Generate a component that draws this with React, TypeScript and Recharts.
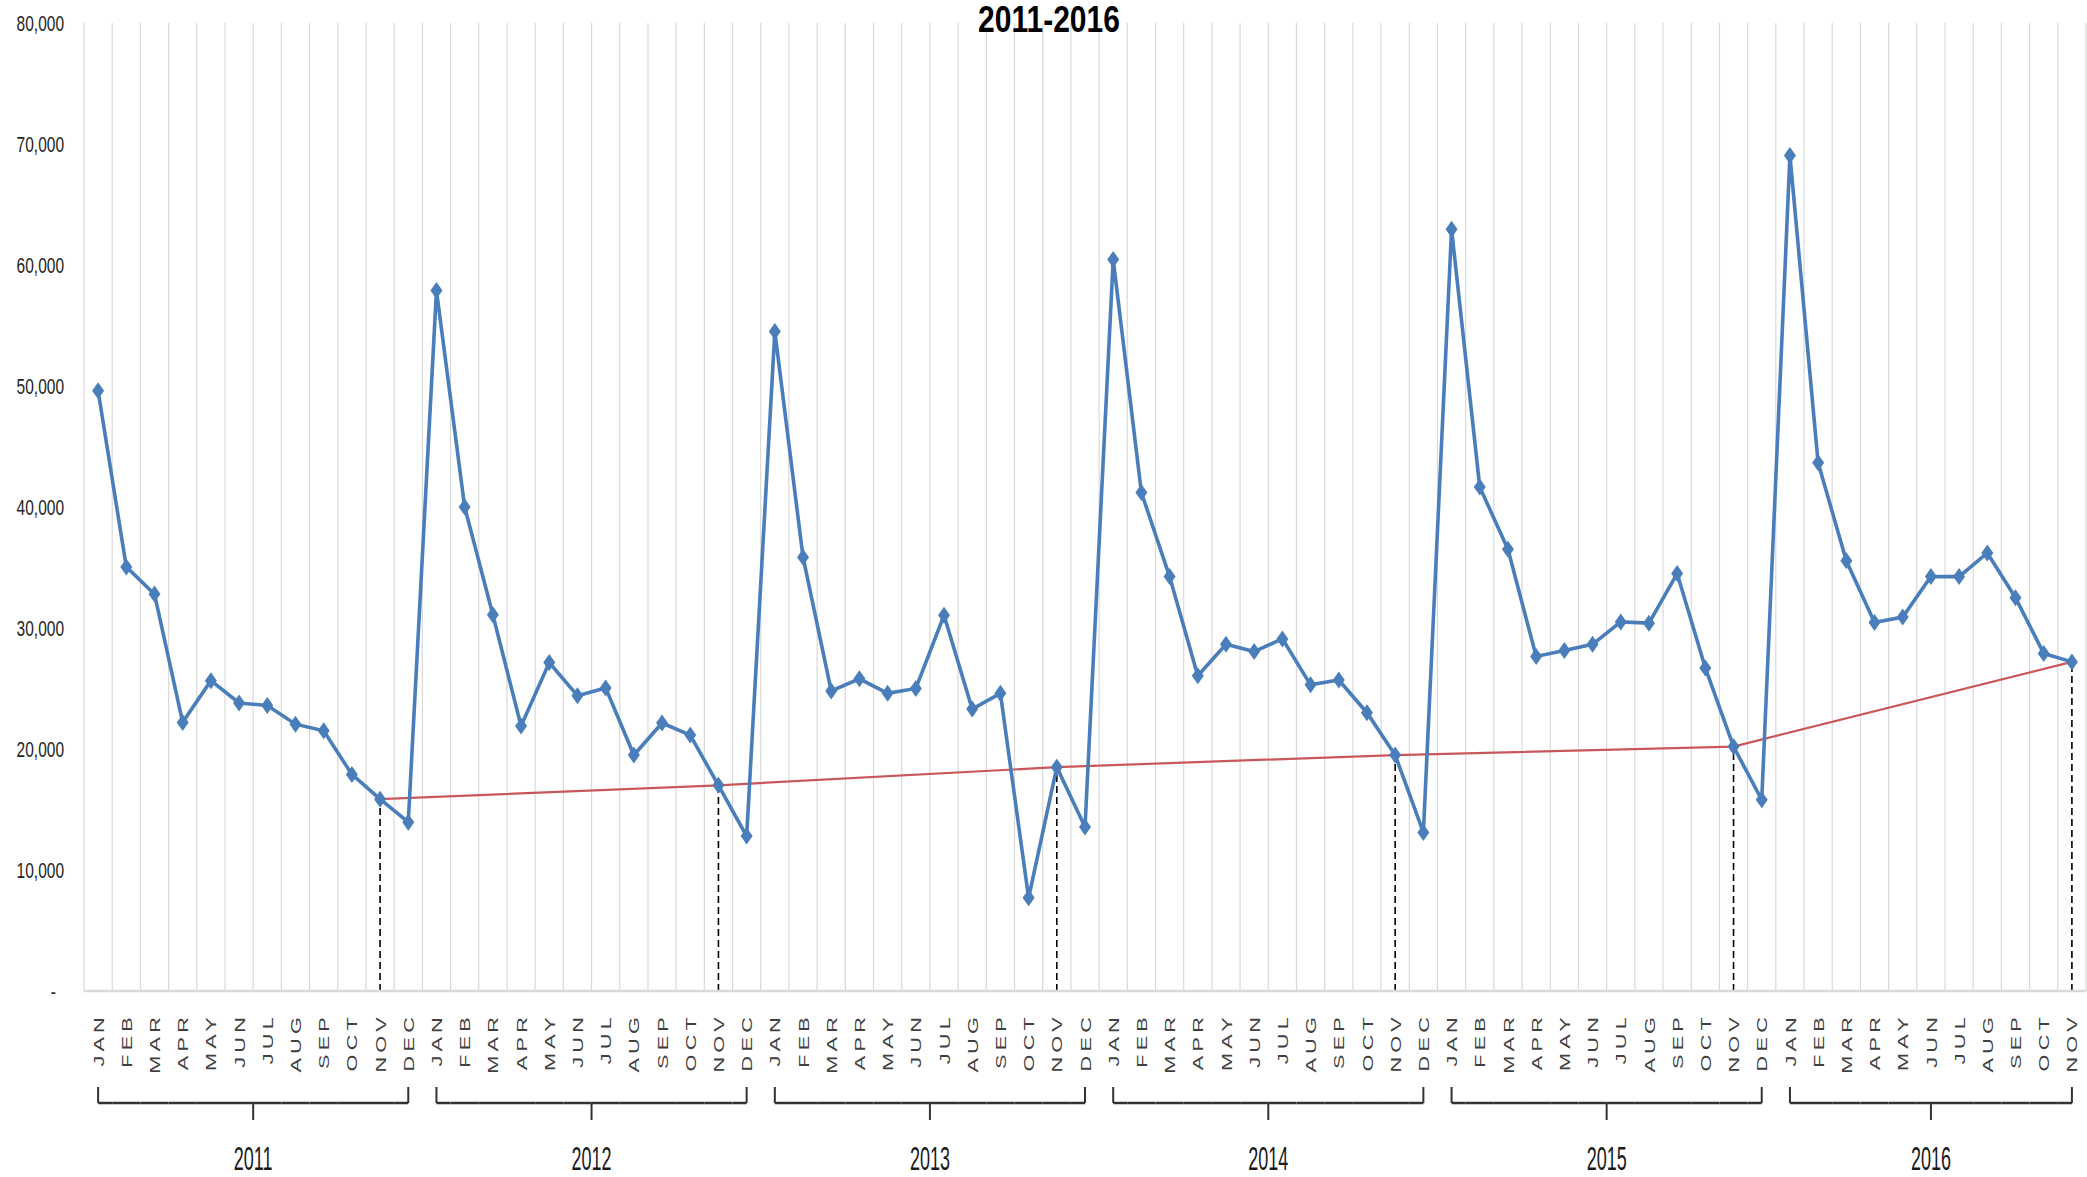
import { LineChart, Line, XAxis, YAxis, CartesianGrid, ReferenceLine } from "recharts";

const months = ["JAN", "FEB", "MAR", "APR", "MAY", "JUN", "JUL", "AUG", "SEP", "OCT", "NOV", "DEC"];
const years = [2011, 2012, 2013, 2014, 2015, 2016];

// monthly values (2016 stops at NOV)
const v2011 = [49600, 35050, 32800, 22200, 25650, 23800, 23600, 22050, 21500, 17900, 15850, 13950];
const v2012 = [57900, 40000, 31100, 21900, 27150, 24400, 25050, 19500, 22150, 21150, 17000, 12800];
const v2013 = [54500, 35850, 24800, 25800, 24600, 25000, 31050, 23300, 24600, 7700, 18500, 13550];
const v2014 = [60450, 41200, 34250, 26050, 28650, 28050, 29100, 25300, 25700, 23000, 19500, 13100];
const v2015 = [62950, 41650, 36500, 27650, 28150, 28650, 30500, 30400, 34500, 26700, 20200, 15800];
const v2016 = [69050, 43650, 35550, 30450, 30900, 34250, 34250, 36200, 32500, 27900, 27200];
const valuesByYear = [v2011, v2012, v2013, v2014, v2015, v2016];

const yTicks = [0, 10000, 20000, 30000, 40000, 50000, 60000, 70000, 80000];

const data = valuesByYear.flatMap((vals, yi) =>
  vals.map((value, mi) => ({
    key: `${years[yi]}-${months[mi]}`,
    month: months[mi],
    year: years[yi],
    mi,
    count: vals.length,
    value,
    trend: months[mi] === "NOV" ? value : null,
  }))
);

const W = 2087;
const H = 1177;
const Y_W = 84;
const MARGIN = { top: 23, right: 1, bottom: 0, left: 0 };
const N = data.length;
const STEP = (W - Y_W - MARGIN.left - MARGIN.right) / N;
const FONT = "'Liberation Sans', Arial, sans-serif";

function YTick({ x, y, payload }: any) {
  const v = payload.value;
  const label = v === 0 ? "-" : v.toLocaleString("en-US");
  return (
    <text
      transform={`translate(${v === 0 ? x - 8 : x},${y}) scale(1,1.48)`}
      textAnchor="end"
      dy="0.36em"
      fontFamily={FONT}
      fontSize={15.5}
      fill="#262626"
    >
      {label}
    </text>
  );
}

function XTick({ x, y, index }: any) {
  const d = data[index];
  if (!d) return null;
  const last = d.mi === d.count - 1;
  const by = y + 112;
  const x1 = d.mi === 0 ? x : x - STEP / 2;
  const x2 = last ? x : x + STEP / 2;
  const center = x + ((d.count - 1) * STEP) / 2;
  return (
    <g>
      <text
        transform={`translate(${x},${y + 22}) scale(1,1.4) rotate(-90)`}
        textAnchor="end"
        dy="0.36em"
        fontFamily={FONT}
        fontSize={15.5}
        letterSpacing={3}
        fill="#404040"
      >
        {d.month}
      </text>
      <line x1={x1} y1={by} x2={x2} y2={by} stroke="#333" strokeWidth={2.5} />
      {(d.mi === 0 || last) && <line x1={x} y1={by - 16} x2={x} y2={by} stroke="#333" strokeWidth={2} />}
      {d.mi === 0 && (
        <g>
          <line x1={center} y1={by} x2={center} y2={by + 17} stroke="#333" strokeWidth={2} />
          <text
            transform={`translate(${center},${y + 179}) scale(1,1.8)`}
            textAnchor="middle"
            fontFamily={FONT}
            fontSize={18}
            fill="#1a1a1a"
          >
            {d.year}
          </text>
        </g>
      )}
    </g>
  );
}

function Diamond({ cx, cy, index }: any) {
  if (cx == null || cy == null) return <g key={index} />;
  return (
    <path
      key={index}
      d={`M${cx},${cy - 8.5} L${cx + 6},${cy} L${cx},${cy + 8.5} L${cx - 6},${cy} Z`}
      fill="#4A7EBB"
    />
  );
}

export default function App() {
  return (
    <div style={{ position: "absolute", left: 0, top: 0, width: W, height: H, background: "#fff", overflow: "hidden" }}>
      <LineChart width={W} height={H} data={data} margin={MARGIN}>
        <CartesianGrid
          horizontal={false}
          stroke="#d9d9d9"
          strokeWidth={1.2}
          verticalCoordinatesGenerator={({ offset }: any) =>
            Array.from({ length: N + 1 }, (_, i) => offset.left + (i * offset.width) / N)
          }
        />
        <XAxis
          dataKey="key"
          scale="band"
          interval={0}
          height={H - 991}
          tickLine={false}
          tickSize={0}
          tickMargin={0}
          axisLine={{ stroke: "#d9d9d9", strokeWidth: 2.5 }}
          tick={<XTick />}
        />
        <YAxis
          width={Y_W}
          domain={[0, 80000]}
          ticks={yTicks}
          axisLine={false}
          tickLine={false}
          tickSize={0}
          tickMargin={20}
          tick={<YTick />}
        />
        {data
          .filter((d) => d.trend != null)
          .map((d) => (
            <ReferenceLine
              key={d.key}
              segment={[
                { x: d.key, y: 0 },
                { x: d.key, y: d.value },
              ]}
              stroke="#000"
              strokeWidth={1.6}
              strokeDasharray="7 4"
            />
          ))}
        <Line
          dataKey="trend"
          type="linear"
          connectNulls
          stroke="#C9575A"
          strokeWidth={2.2}
          dot={false}
          activeDot={false}
          isAnimationActive={false}
        />
        <Line
          dataKey="value"
          type="linear"
          stroke="#4A7EBB"
          strokeWidth={3.6}
          dot={(p: any) => <Diamond key={p.index} {...p} />}
          activeDot={false}
          isAnimationActive={false}
        />
      </LineChart>
      <div
        style={{
          position: "absolute",
          left: 1049 - 200,
          top: 1,
          width: 400,
          textAlign: "center",
          fontFamily: FONT,
          fontWeight: "bold",
          fontSize: 30,
          lineHeight: "30px",
          color: "#000",
          transform: "scaleY(1.22)",
          transformOrigin: "top",
        }}
      >
        2011-2016
      </div>
    </div>
  );
}
